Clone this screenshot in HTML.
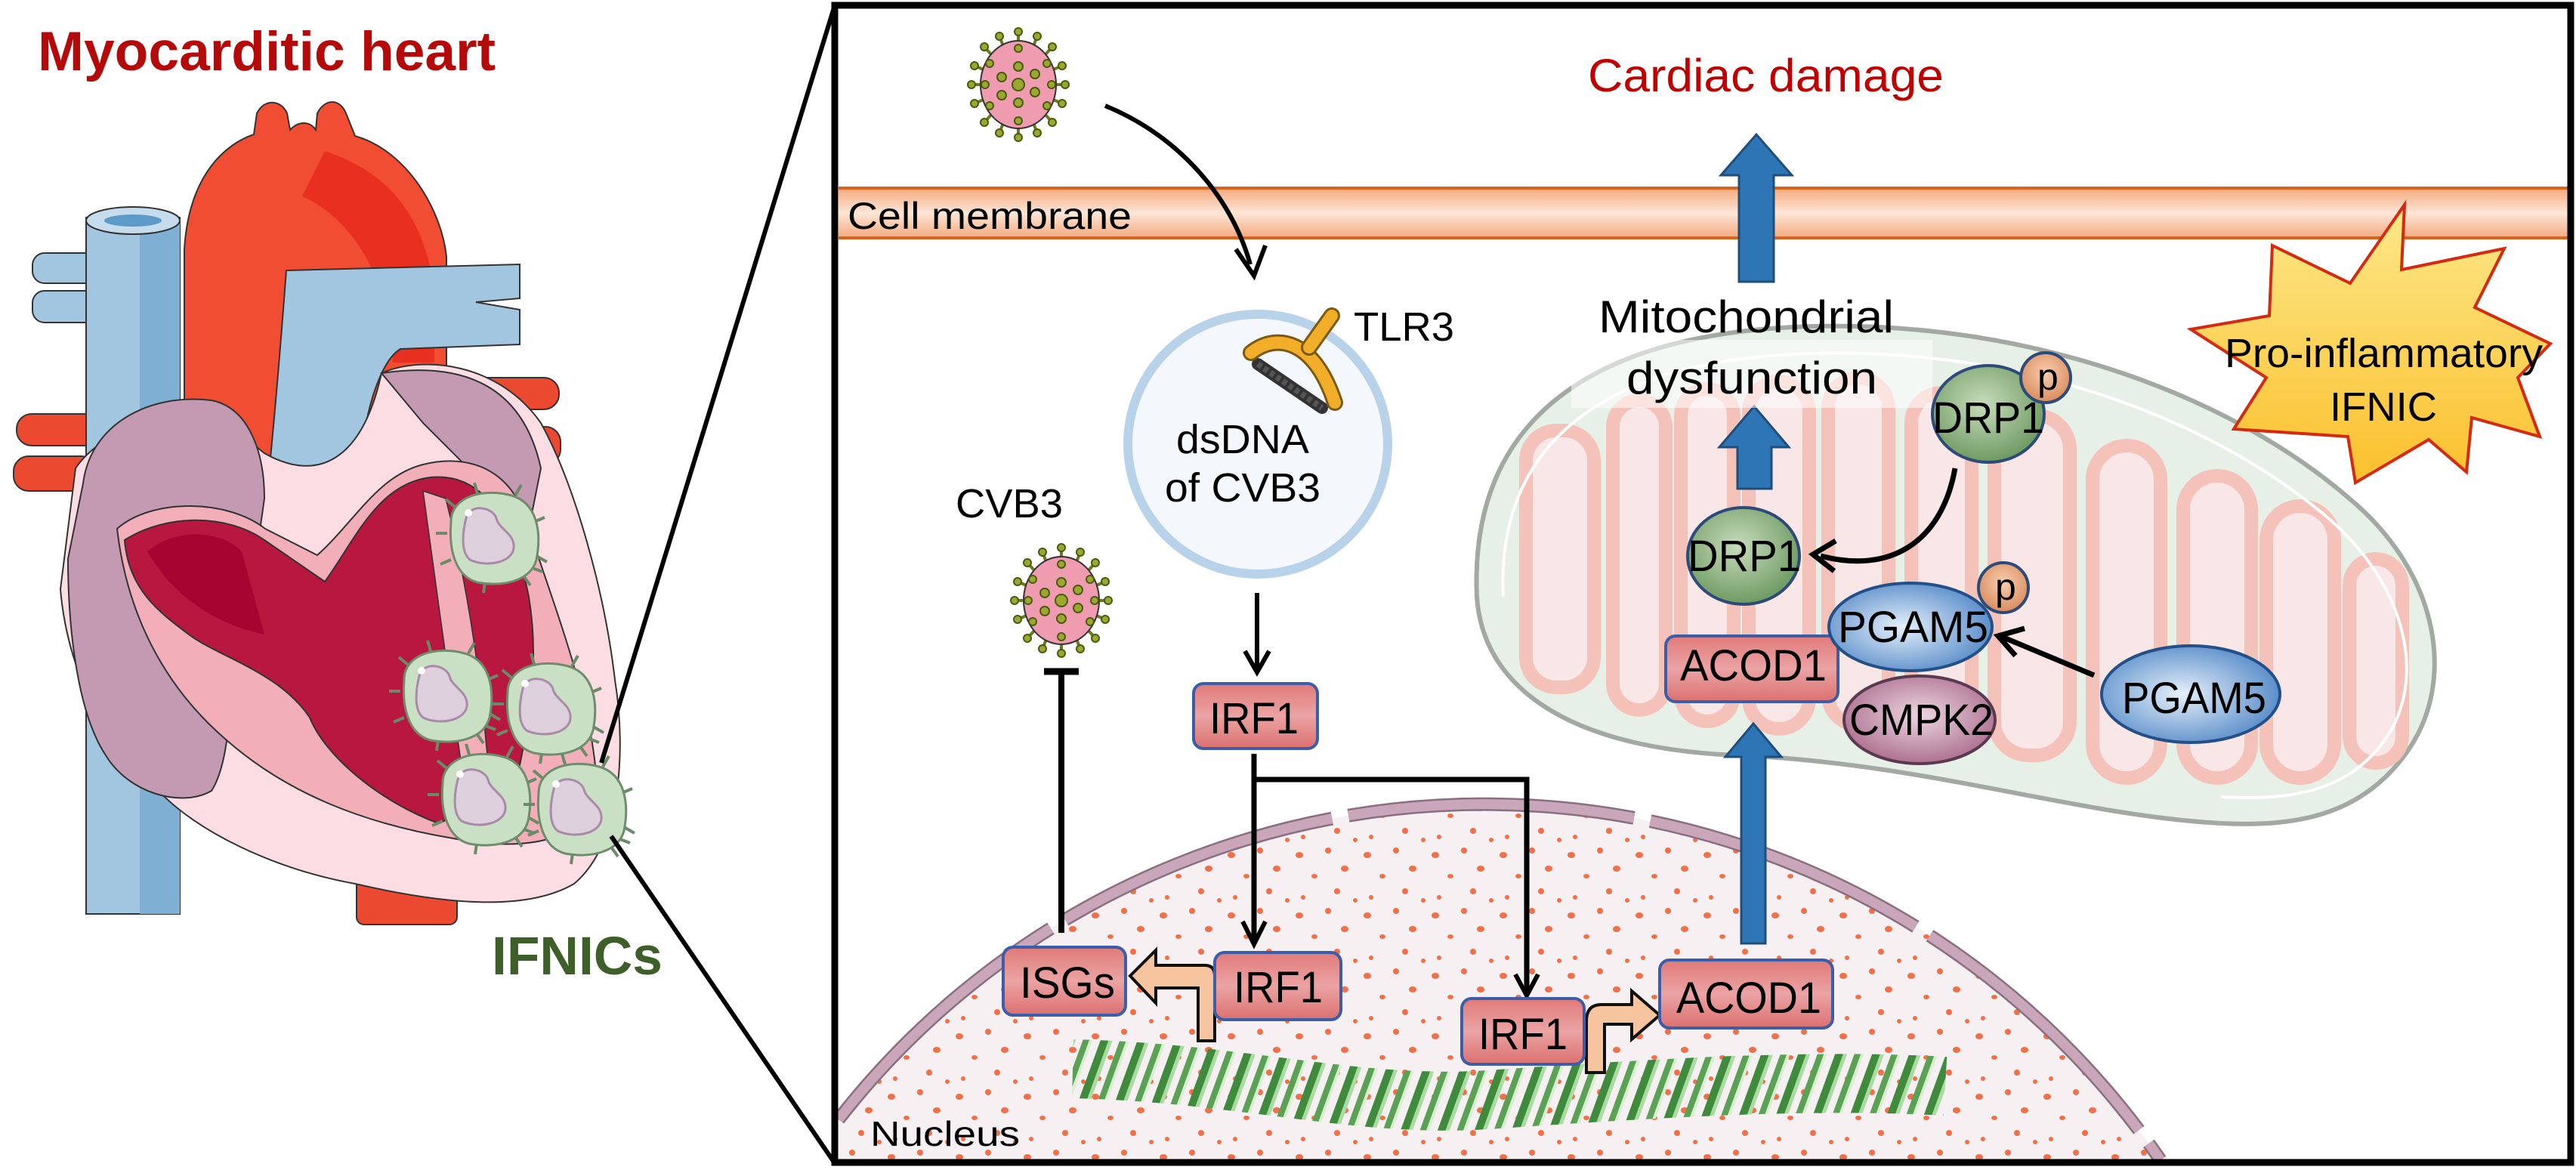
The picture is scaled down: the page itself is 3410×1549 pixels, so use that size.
<!DOCTYPE html>
<html><head><meta charset="utf-8"><style>
html,body{margin:0;padding:0;background:#fff;width:3410px;height:1549px;overflow:hidden;}
svg{display:block;}
text{font-family:"Liberation Sans",Arial,sans-serif;}
</style></head><body>
<svg width="3410" height="1549" viewBox="0 0 3410 1549" xmlns="http://www.w3.org/2000/svg">
<defs>
<linearGradient id="mem" x1="0" y1="0" x2="0" y2="1">
<stop offset="0" stop-color="#f3a677"/><stop offset="0.5" stop-color="#fde6d8"/><stop offset="1" stop-color="#f3a677"/>
</linearGradient>
<linearGradient id="box" x1="0" y1="0" x2="0" y2="1">
<stop offset="0" stop-color="#e07a7a"/><stop offset="0.5" stop-color="#eba3a3"/><stop offset="1" stop-color="#dc7070"/>
</linearGradient>
<radialGradient id="grn" cx="0.45" cy="0.4" r="0.6"><stop offset="0" stop-color="#c7dcbc"/><stop offset="1" stop-color="#6f9a62"/></radialGradient>
<radialGradient id="blu" cx="0.45" cy="0.5" r="0.6"><stop offset="0" stop-color="#e6f0fa"/><stop offset="1" stop-color="#4f86c6"/></radialGradient>
<radialGradient id="pur" cx="0.5" cy="0.45" r="0.6"><stop offset="0" stop-color="#ecd6e0"/><stop offset="1" stop-color="#a8688a"/></radialGradient>
<radialGradient id="org" cx="0.5" cy="0.4" r="0.6"><stop offset="0" stop-color="#f6cdb0"/><stop offset="1" stop-color="#d98c5c"/></radialGradient>
<linearGradient id="star" x1="0" y1="0" x2="0" y2="1"><stop offset="0" stop-color="#fde88a"/><stop offset="1" stop-color="#fbc02d"/></linearGradient>
<pattern id="dots" width="90" height="80" patternUnits="userSpaceOnUse">
<ellipse cx="10" cy="12" rx="5" ry="4" fill="#f05a2a"/><ellipse cx="48" cy="6" rx="4" ry="4" fill="#f05a2a"/>
<ellipse cx="70" cy="30" rx="5" ry="4" fill="#f05a2a"/><ellipse cx="30" cy="40" rx="4" ry="3" fill="#f05a2a"/>
<ellipse cx="60" cy="60" rx="4" ry="4" fill="#f05a2a"/><ellipse cx="15" cy="68" rx="3" ry="3" fill="#f05a2a"/>
<ellipse cx="84" cy="72" rx="3" ry="3" fill="#f05a2a"/>
</pattern>
<pattern id="helix" width="46" height="120" patternUnits="userSpaceOnUse" patternTransform="rotate(20)">
<rect x="0" y="0" width="10" height="120" fill="#3f8a3c"/><rect x="10" y="0" width="5" height="120" fill="#a8dca0"/>
<rect x="24" y="0" width="8" height="120" fill="#5aa155"/><rect x="32" y="0" width="4" height="120" fill="#d8f0d0"/>
</pattern>
<clipPath id="mitoclip"><path d="M1955,790 C1945,560 2100,440 2400,432 C2700,425 2960,530 3110,660 C3230,760 3250,900 3190,990 C3130,1080 3040,1095 2940,1090 C2750,1080 2550,1010 2300,1000 C2060,990 1962,900 1955,790 Z"/></clipPath>
<g id="virus">
<g stroke="#6b7a1e" stroke-width="4">
<line x1="-62" y1="0" x2="62" y2="0"/><line x1="0" y1="-70" x2="0" y2="70"/>
<line x1="-45" y1="-50" x2="45" y2="50"/><line x1="45" y1="-50" x2="-45" y2="50"/>
<line x1="-58" y1="-25" x2="58" y2="25"/><line x1="58" y1="-25" x2="-58" y2="25"/>
<line x1="-25" y1="-64" x2="25" y2="64"/><line x1="25" y1="-64" x2="-25" y2="64"/>
</g>
<ellipse cx="0" cy="0" rx="50" ry="58" fill="#ef9bb0" stroke="#333" stroke-width="2"/>
<g fill="#9aa830" stroke="#4a5a10" stroke-width="2">
<circle cx="0" cy="0" r="8"/><circle cx="0" cy="-24" r="6"/><circle cx="0" cy="24" r="6"/><circle cx="-22" cy="-10" r="6"/><circle cx="22" cy="10" r="6"/><circle cx="22" cy="-14" r="6"/><circle cx="-22" cy="14" r="6"/>
<circle cx="0" cy="-48" r="5"/><circle cx="0" cy="48" r="5"/><circle cx="-38" cy="-28" r="5"/><circle cx="38" cy="28" r="5"/><circle cx="38" cy="-28" r="5"/><circle cx="-38" cy="28" r="5"/><circle cx="-44" cy="0" r="5"/><circle cx="44" cy="0" r="5"/>
<circle cx="-62" cy="0" r="5"/><circle cx="62" cy="0" r="5"/><circle cx="0" cy="-70" r="5"/><circle cx="0" cy="70" r="5"/><circle cx="-45" cy="-50" r="5"/><circle cx="45" cy="50" r="5"/><circle cx="45" cy="-50" r="5"/><circle cx="-45" cy="50" r="5"/><circle cx="-58" cy="-25" r="5"/><circle cx="58" cy="25" r="5"/><circle cx="58" cy="-25" r="5"/><circle cx="-58" cy="25" r="5"/><circle cx="-25" cy="-64" r="5"/><circle cx="25" cy="64" r="5"/><circle cx="25" cy="-64" r="5"/><circle cx="-25" cy="64" r="5"/>
</g>
</g>
<g id="cell">
<g stroke="#6a8a68" stroke-width="4" fill="none">
<path d="M-50,-40 l-12,-10 M-20,-58 l-4,-14 M30,-55 l8,-14 M55,-20 l14,-6 M58,25 l14,8 M40,50 l10,14 M50,40 l16,6 M-10,60 l-2,14 M-55,30 l-14,6 M-60,-5 l-15,0"/>
</g>
<path d="M-55,-20 C-55,-55 -10,-65 25,-55 C60,-45 65,-5 58,30 C50,60 10,66 -20,60 C-50,52 -58,15 -55,-20 Z" fill="#c9e0c4" stroke="#6f8c6c" stroke-width="3"/>
<path d="M-35,-25 C-30,-45 0,-40 5,-25 C8,-10 30,-5 28,15 C25,35 -10,40 -30,30 C-42,20 -40,-5 -35,-25 Z" fill="#ddd0dc" stroke="#a98aa8" stroke-width="3"/>
<circle cx="-32" cy="-32" r="5" fill="#fff"/>
</g>
</defs>

<text x="50" y="93" font-size="73" font-weight="bold" fill="#b40a0a" textLength="606" lengthAdjust="spacingAndGlyphs">Myocarditic heart</text>

<rect x="22" y="548" width="110" height="42" rx="20" fill="#ec4a30" stroke="#333" stroke-width="2"/>
<rect x="18" y="604" width="110" height="46" rx="20" fill="#ec4a30" stroke="#333" stroke-width="2"/>
<rect x="600" y="500" width="140" height="42" rx="20" fill="#ec4a30" stroke="#333" stroke-width="2"/>
<rect x="610" y="565" width="132" height="50" rx="20" fill="#ec4a30" stroke="#333" stroke-width="2"/>
<rect x="43" y="335" width="100" height="40" rx="16" fill="#a2c6e0" stroke="#333" stroke-width="2"/>
<rect x="43" y="385" width="100" height="42" rx="16" fill="#a2c6e0" stroke="#333" stroke-width="2"/>
<rect x="114" y="288" width="124" height="922" fill="#a2c6e0" stroke="#333" stroke-width="2"/>
<rect x="185" y="288" width="53" height="922" fill="#7fb0d4"/>
<ellipse cx="176" cy="292" rx="62" ry="18" fill="#c5dced" stroke="#333" stroke-width="2"/>
<ellipse cx="176" cy="292" rx="38" ry="8" fill="#5e9ac8"/>
<path d="M244,700 L244,330 C250,230 300,190 336,178 L340,150 C350,130 372,132 380,150 L384,172 C395,160 410,160 418,172 L420,150 C430,130 450,130 458,150 L470,180 C540,200 585,280 591,340 L591,490 L350,700 Z" fill="#f04d33" stroke="#333" stroke-width="2"/>
<path d="M430,200 C520,230 560,290 575,380 L575,480 L520,480 C520,380 470,290 400,260 Z" fill="#e42218" opacity="0.7"/>
<path d="M347,710 C360,600 372,450 379,358 L688,350 L688,395 L630,400 L688,410 L688,456 L530,462 C500,480 480,560 477,620 L440,700 Z" fill="#a2c6e0" stroke="#333" stroke-width="2"/>
<rect x="472" y="1150" width="133" height="74" rx="10" fill="#ec4a30" stroke="#333" stroke-width="2"/>
<path d="M100,620 C140,560 260,530 300,560 L350,600 C420,640 480,610 505,494 C560,470 660,480 716,560 C760,640 800,780 814,900 C830,1000 820,1120 760,1170 C700,1205 600,1200 470,1170 C360,1150 260,1100 210,1047 C150,1000 90,900 80,780 Z" fill="#fbdde3" stroke="#333" stroke-width="2"/>
<path d="M110,640 C120,560 200,520 280,530 C330,540 350,600 350,660 L330,800 C300,900 310,1000 280,1047 C240,1070 170,1050 140,1000 C100,940 90,820 90,740 Z" fill="#c499b2" stroke="#333" stroke-width="2"/>
<path d="M505,494 C600,480 690,500 716,620 L700,700 L560,560 Z" fill="#c499b2" stroke="#333" stroke-width="2"/>
<path d="M155,700 C200,660 300,660 351,700 L420,735 C470,690 500,630 560,615 C620,600 680,620 700,700 C740,820 790,950 790,1050 C780,1110 700,1130 600,1110 C480,1090 380,1050 300,980 C230,920 170,830 155,700 Z" fill="#f2afba" stroke="#333" stroke-width="2"/>
<path d="M165,715 C220,680 300,680 350,715 L430,770 C470,715 500,640 570,632 C640,625 680,690 700,790 C715,880 700,960 680,1050 L580,1090 C500,1060 430,1000 410,950 C370,890 290,870 250,840 C210,810 170,780 165,715 Z" fill="#b8173f" stroke="#333" stroke-width="2"/>
<path d="M195,730 C230,700 290,700 320,730 L350,840 C300,830 235,800 195,730 Z" fill="#a60532"/>
<path d="M560,650 L590,660 C615,760 635,880 645,1000 L615,1040 C595,910 578,780 560,650 Z" fill="#f2afba" stroke="#333" stroke-width="1.5"/>
<use href="#cell" transform="translate(652,711)"/>
<use href="#cell" transform="translate(590,920)"/>
<use href="#cell" transform="translate(727,937)"/>
<use href="#cell" transform="translate(641,1057)"/>
<use href="#cell" transform="translate(768,1070)"/>

<text x="651" y="1290" font-size="71" font-weight="bold" fill="#3e5e2a" textLength="226" lengthAdjust="spacingAndGlyphs">IFNICs</text>

<line x1="796" y1="1010" x2="1105" y2="7" stroke="#000" stroke-width="6"/>
<line x1="809" y1="1107" x2="1105" y2="1540" stroke="#000" stroke-width="6"/>

<!-- membrane -->
<rect x="1110" y="247" width="2290" height="70" fill="url(#mem)"/>
<line x1="1110" y1="249" x2="3400" y2="249" stroke="#d9631f" stroke-width="4"/>
<line x1="1110" y1="315" x2="3400" y2="315" stroke="#d9631f" stroke-width="4"/>

<!-- nucleus (arc path within frame) -->
<path d="M1110,1482 A1085,1085 0 0 1 2860,1536 L1110,1536 Z" fill="#f6f0f3"/>
<path d="M1110,1482 A1085,1085 0 0 1 2860,1536 L1110,1536 Z" fill="url(#dots)" opacity="0.85"/>
<path d="M1110,1482 A1085,1085 0 0 1 2860,1536" fill="none" stroke="#8a6f80" stroke-width="18" stroke-dasharray="380 22"/>
<path d="M1110,1482 A1085,1085 0 0 1 2860,1536" fill="none" stroke="#c9a6ba" stroke-width="13" stroke-dasharray="380 22"/>

<!-- mitochondrion -->
<path d="M1955,790 C1945,560 2100,440 2400,432 C2700,425 2960,530 3110,660 C3230,760 3250,900 3190,990 C3130,1080 3040,1095 2940,1090 C2750,1080 2550,1010 2300,1000 C2060,990 1962,900 1955,790 Z" fill="#e6f0e6" stroke="#a2a8a2" stroke-width="6"/>
<g clip-path="url(#mitoclip)" fill="#f9e6e6" stroke="#f5c2ba" stroke-width="18">
<rect x="2020" y="570" width="90" height="340" rx="40"/>
<rect x="2135" y="530" width="70" height="410" rx="35"/>
<rect x="2225" y="515" width="70" height="440" rx="35"/>
<rect x="2315" y="505" width="80" height="460" rx="40"/>
<rect x="2420" y="500" width="80" height="460" rx="40"/>
<rect x="2530" y="520" width="80" height="450" rx="40"/>
<rect x="2640" y="550" width="100" height="450" rx="45"/>
<rect x="2770" y="590" width="90" height="440" rx="45"/>
<rect x="2890" y="630" width="90" height="400" rx="45"/>
<rect x="3000" y="670" width="90" height="360" rx="45"/>
<rect x="3110" y="740" width="70" height="270" rx="35"/>
</g>
<path d="M1990,790 C1980,590 2120,475 2400,468 C2690,460 2930,560 3075,680 C3190,775 3210,900 3160,975 C3110,1050 3030,1060 2940,1055" fill="none" stroke="#fff" stroke-width="4"/>

<rect x="1105" y="7" width="2298" height="1532" fill="none" stroke="#000" stroke-width="9"/>

<text x="1122" y="303" font-size="50" fill="#000" textLength="376" lengthAdjust="spacingAndGlyphs">Cell membrane</text>
<text x="1152" y="1517" font-size="46" fill="#000" textLength="198" lengthAdjust="spacingAndGlyphs">Nucleus</text>

<use href="#virus" transform="translate(1348,112)"/>
<path d="M1463,140 C1560,180 1630,260 1655,350" fill="none" stroke="#000" stroke-width="6"/>
<path d="M1636,330 L1660,365 L1675,325" fill="none" stroke="#000" stroke-width="6"/>

<circle cx="1665" cy="588" r="172" fill="#f4f7fb" stroke="#b8d2ea" stroke-width="12"/>
<path d="M1665,482 L1750,540" stroke="#333" stroke-width="16" stroke-linecap="round"/>
<path d="M1665,482 L1750,540" stroke="#555" stroke-width="8" stroke-dasharray="6 4"/>
<path d="M1656,467 C1690,440 1740,450 1767,533" fill="none" stroke="#7a5a10" stroke-width="22" stroke-linecap="round"/>
<path d="M1656,467 C1690,440 1740,450 1767,533" fill="none" stroke="#f2ae28" stroke-width="16" stroke-linecap="round"/>
<line x1="1733" y1="460" x2="1763" y2="418" stroke="#7a5a10" stroke-width="22" stroke-linecap="round"/>
<line x1="1733" y1="460" x2="1763" y2="418" stroke="#f2ae28" stroke-width="16" stroke-linecap="round"/>
<text x="1792" y="451" font-size="54" textLength="133" lengthAdjust="spacingAndGlyphs">TLR3</text>
<text x="1557" y="600" font-size="54" textLength="176" lengthAdjust="spacingAndGlyphs">dsDNA</text>
<text x="1542" y="664" font-size="54" textLength="206" lengthAdjust="spacingAndGlyphs">of CVB3</text>

<text x="1265" y="685" font-size="54" textLength="142" lengthAdjust="spacingAndGlyphs">CVB3</text>
<use href="#virus" transform="translate(1405,795)"/>
<line x1="1405" y1="887" x2="1405" y2="1235" stroke="#000" stroke-width="8"/>
<line x1="1382" y1="889" x2="1428" y2="889" stroke="#000" stroke-width="9"/>

<line x1="1664" y1="785" x2="1664" y2="885" stroke="#000" stroke-width="6"/>
<path d="M1648,862 L1664,890 L1680,862" fill="none" stroke="#000" stroke-width="6"/>

<rect x="1580" y="905" width="164" height="86" rx="13" fill="url(#box)" stroke="#3c5ea8" stroke-width="4"/>
<text x="1601" y="971" font-size="58" textLength="118" lengthAdjust="spacingAndGlyphs">IRF1</text>

<line x1="1660" y1="998" x2="1660" y2="1245" stroke="#000" stroke-width="7"/>
<path d="M1645,1220 L1660,1250 L1675,1220" fill="none" stroke="#000" stroke-width="6"/>
<polyline points="1660,1032 2021,1032 2021,1314" fill="none" stroke="#000" stroke-width="7"/>
<path d="M2006,1290 L2021,1318 L2036,1290" fill="none" stroke="#000" stroke-width="6"/>

<path d="M1420,1415 C1650,1420 1800,1470 1984,1455 C2200,1440 2400,1428 2575,1438" fill="none" stroke="url(#helix)" stroke-width="78"/>

<path d="M1586,1378 L1586,1308 L1530,1308 L1530,1328 L1496,1292 L1530,1258 L1530,1278 L1595,1278 Q1608,1278 1608,1292 L1608,1378 Z" fill="#f6c5a0" stroke="#111" stroke-width="4"/>
<path d="M2100,1420 L2100,1352 Q2100,1330 2120,1330 L2160,1330 L2160,1312 L2197,1344 L2160,1376 L2160,1356 L2124,1356 L2124,1420 Z" fill="#f6c5a0" stroke="#111" stroke-width="4"/>

<rect x="1328" y="1254" width="162" height="90" rx="13" fill="url(#box)" stroke="#3c5ea8" stroke-width="4"/>
<text x="1350" y="1321" font-size="58" textLength="126" lengthAdjust="spacingAndGlyphs">ISGs</text>
<rect x="1608" y="1261" width="167" height="89" rx="13" fill="url(#box)" stroke="#3c5ea8" stroke-width="4"/>
<text x="1633" y="1327" font-size="58" textLength="118" lengthAdjust="spacingAndGlyphs">IRF1</text>
<rect x="1935" y="1322" width="162" height="87" rx="13" fill="url(#box)" stroke="#3c5ea8" stroke-width="4"/>
<text x="1957" y="1389" font-size="58" textLength="118" lengthAdjust="spacingAndGlyphs">IRF1</text>
<rect x="2197" y="1271" width="229" height="90" rx="13" fill="url(#box)" stroke="#3c5ea8" stroke-width="4"/>
<text x="2219" y="1341" font-size="58" textLength="192" lengthAdjust="spacingAndGlyphs">ACOD1</text>

<polygon points="2305,1249 2337,1249 2337,1002 2358,1002 2321,958 2284,1002 2305,1002" fill="#2e75b6" stroke="#1f4e79" stroke-width="3"/>
<polygon points="2300,647 2345,647 2345,592 2368,592 2322,538 2276,592 2300,592" fill="#2e75b6" stroke="#1f4e79" stroke-width="3"/>
<polygon points="2302,373 2348,373 2348,232 2372,232 2325,178 2278,232 2302,232" fill="#2e75b6" stroke="#1f4e79" stroke-width="3"/>

<text x="2102" y="121" font-size="61" fill="#c00000" textLength="471" lengthAdjust="spacingAndGlyphs">Cardiac damage</text>

<rect x="2080" y="450" width="478" height="90" fill="#fff" opacity="0.55"/>
<text x="2116" y="440" font-size="60" textLength="391" lengthAdjust="spacingAndGlyphs">Mitochondrial</text>
<text x="2153" y="521" font-size="60" textLength="332" lengthAdjust="spacingAndGlyphs">dysfunction</text>

<ellipse cx="2632" cy="548" rx="74" ry="64" fill="url(#grn)" stroke="#2d4a78" stroke-width="4"/>
<circle cx="2708" cy="500" r="33" fill="url(#org)" stroke="#2d4a78" stroke-width="4"/>
<text x="2697" y="516" font-size="50">p</text>
<text x="2558" y="573" font-size="58" textLength="148" lengthAdjust="spacingAndGlyphs">DRP1</text>

<path d="M2588,620 C2570,720 2500,760 2410,736" fill="none" stroke="#000" stroke-width="7"/>
<path d="M2430,716 L2400,734 L2428,756" fill="none" stroke="#000" stroke-width="7"/>

<ellipse cx="2308" cy="736" rx="74" ry="64" fill="url(#grn)" stroke="#2d4a78" stroke-width="4"/>
<text x="2234" y="756" font-size="58" textLength="150" lengthAdjust="spacingAndGlyphs">DRP1</text>

<ellipse cx="2541" cy="953" rx="100" ry="58" fill="url(#pur)" stroke="#5a3a50" stroke-width="4"/>
<text x="2448" y="973" font-size="58" textLength="191" lengthAdjust="spacingAndGlyphs">CMPK2</text>

<rect x="2205" y="842" width="228" height="87" rx="13" fill="url(#box)" stroke="#3c5ea8" stroke-width="4"/>
<text x="2224" y="901" font-size="58" textLength="194" lengthAdjust="spacingAndGlyphs">ACOD1</text>

<ellipse cx="2529" cy="830" rx="108" ry="58" fill="url(#blu)" stroke="#24508a" stroke-width="4"/>
<circle cx="2652" cy="778" r="33" fill="url(#org)" stroke="#2d4a78" stroke-width="4"/>
<text x="2641" y="794" font-size="50">p</text>
<text x="2433" y="850" font-size="58" textLength="199" lengthAdjust="spacingAndGlyphs">PGAM5</text>

<ellipse cx="2900" cy="919" rx="118" ry="64" fill="url(#blu)" stroke="#24508a" stroke-width="4"/>
<text x="2809" y="944" font-size="58" textLength="191" lengthAdjust="spacingAndGlyphs">PGAM5</text>

<line x1="2772" y1="894" x2="2650" y2="843" stroke="#000" stroke-width="7"/>
<path d="M2680,832 L2645,842 L2668,868" fill="none" stroke="#000" stroke-width="7"/>

<polygon points="3183,271 3179,357 3315,329 3276,407 3376,455 3333,500 3362,578 3272,553 3265,625 3215,582 3118,639 3108,578 2957,568 3000,500 2900,436 3004,418 3008,325 3111,375" fill="url(#star)" stroke="#d42a10" stroke-width="4"/>
<text x="2945" y="486" font-size="54" textLength="421" lengthAdjust="spacingAndGlyphs">Pro-inflammatory</text>
<text x="3084" y="557" font-size="54" textLength="142" lengthAdjust="spacingAndGlyphs">IFNIC</text>
</svg>
</body></html>
